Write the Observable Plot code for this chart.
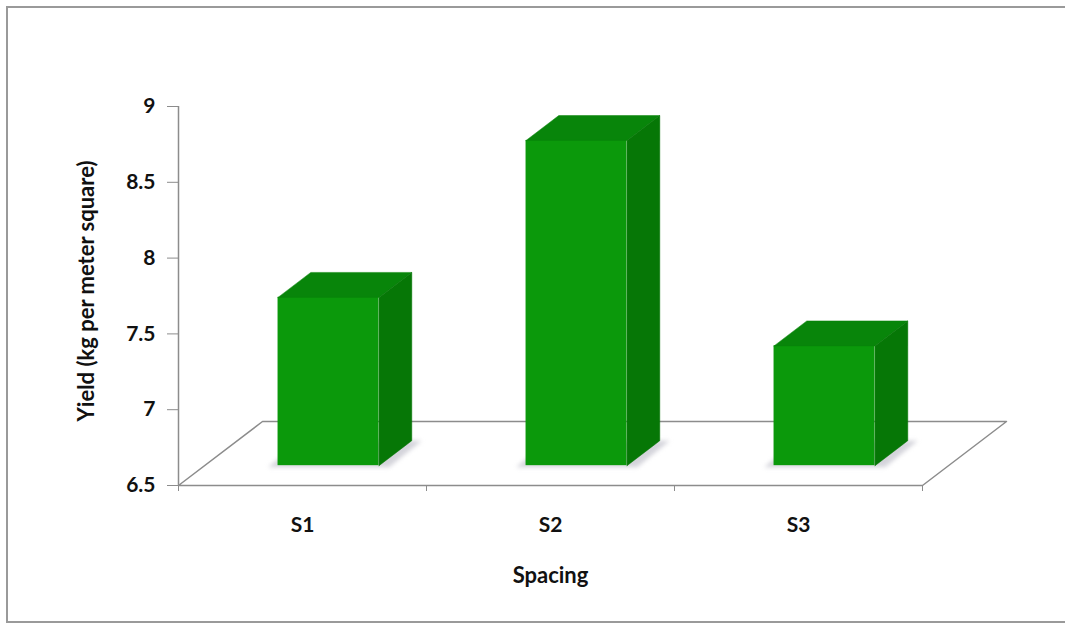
<!DOCTYPE html>
<html>
<head>
<meta charset="utf-8">
<script src="https://cdn.jsdelivr.net/npm/d3@7"></script>
<script src="https://cdn.jsdelivr.net/npm/@observablehq/plot@0.6"></script>
<style>
  html, body { margin: 0; padding: 0; background: #ffffff; }
  #wrap { position: relative; width: 1065px; height: 624px; overflow: hidden; }
  #border { position: absolute; left: 6px; top: 6px; width: 1070px; height: 613px;
            border-left: 2px solid #9a9a9a; border-top: 2px solid #9a9a9a; border-bottom: 2px solid #9a9a9a;
            pointer-events: none; }
</style>
</head>
<body>
<div id="wrap"><div id="border"></div></div>
<script>
// ---- data ----
const categories = ["S1", "S2", "S3"];
const yields = [7.61, 8.645, 7.29];
const yTicks = [6.5, 7, 7.5, 8, 8.5, 9];
const yTitle = "Yield (kg per meter square)";
const xTitle = "Spacing";

// ---- 3D geometry (in data units of the scales) ----
const yMin = 6.5, yMax = 9;
const nCat = categories.length;
const Dx = 0.3387, Dy = 0.4222;      // floor depth vector
const f1 = 0.31, f2 = 0.70;          // bar front/back depth fractions
const half = 0.2036;                 // half width of bar

const floor = [
  {x: 0, y: yMin}, {x: Dx, y: yMin + Dy}, {x: nCat + Dx, y: yMin + Dy}, {x: nCat, y: yMin}, {x: 0, y: yMin}
];

const fronts = [], tops = [], sides = [], shadows = [];
categories.forEach((c, i) => {
  const v = yields[i];
  const cx = i + 0.5;
  const xl = cx - half + f1 * Dx, xr = cx + half + f1 * Dx;
  const yb = yMin + f1 * Dy, yt = v + f1 * Dy;
  const bdx = (f2 - f1) * Dx, bdy = (f2 - f1) * Dy;
  fronts.push({x1: xl, x2: xr, y1: yb, y2: yt, c});
  [[xl, yt], [xr, yt], [xr + bdx, yt + bdy], [xl + bdx, yt + bdy], [xl, yt]]
    .forEach(([x, y]) => tops.push({id: c, x, y}));
  [[xr, yb], [xr, yt], [xr + bdx, yt + bdy], [xr + bdx, yb + bdy], [xr, yb]]
    .forEach(([x, y]) => sides.push({id: c, x, y}));
  const e = 0.04;
  [[xl - e, yb - 0.01], [xr + e, yb - 0.01], [xr + bdx + e, yb + bdy], [xl + bdx - e, yb + bdy], [xl - e, yb - 0.01]]
    .forEach(([x, y]) => shadows.push({id: c, x, y}));
});

const chart = Plot.plot({
  width: 1065,
  height: 624,
  marginLeft: 178,
  marginRight: 143,
  marginTop: 106,
  marginBottom: 139,
  x: {domain: [0, nCat], label: null},
  y: {domain: [yMin, yMax], label: null},
  style: {fontFamily: "Lato, 'Open Sans', sans-serif", background: "transparent", overflow: "visible", color: "#111"},
  marks: [
    Plot.line(floor, {x: "x", y: "y", stroke: "#8c8c8c", strokeWidth: 1.5}),
    Plot.ruleX([0], {y1: yMin, y2: yMax, stroke: "#8c8c8c", strokeWidth: 1.5}),
    Plot.line(shadows, {x: "x", y: "y", z: "id", fill: "#c9c9d2", stroke: "none", fillOpacity: 0.8, imageFilter: "blur(2px)"}),
    Plot.rect(fronts, {x1: "x1", x2: "x2", y1: "y1", y2: "y2", fill: "#0b990b"}),
    Plot.line(tops, {x: "x", y: "y", z: "id", fill: "#08850a", stroke: "#08850a", strokeWidth: 0.5}),
    Plot.line(sides, {x: "x", y: "y", z: "id", fill: "#067706", stroke: "#067706", strokeWidth: 0.5}),
    Plot.axisY({ticks: yTicks, tickSize: 11, tickPadding: 12, fontSize: 21, fontWeight: "bold",
                stroke: "#8c8c8c", fill: "#111", tickFormat: d => String(d)}),
    Plot.axisX({ticks: [0, 1, 2, 3], tickSize: 6, stroke: "#8c8c8c", tickFormat: () => ""}),
    Plot.axisX({ticks: categories.map((c, i) => i + 0.5), tickSize: 0, tickPadding: 32,
                tickFormat: d => categories[Math.floor(d)], fontSize: 21, fontWeight: "bold", fill: "#111"}),
    Plot.text([xTitle], {text: d => d, frameAnchor: "bottom", dy: 90, fontSize: 22, fontWeight: "bold", lineAnchor: "middle", fill: "#111"}),
    Plot.text([yTitle], {text: d => d, frameAnchor: "left", textAnchor: "middle", rotate: -90, dx: -92, dy: -5, fontSize: 22, fontWeight: "bold", lineAnchor: "middle", fill: "#111"})
  ]
});
chart.style.position = "absolute";
chart.style.left = "0px";
chart.style.top = "0px";
document.getElementById("wrap").appendChild(chart);
</script>
</body>
</html>
